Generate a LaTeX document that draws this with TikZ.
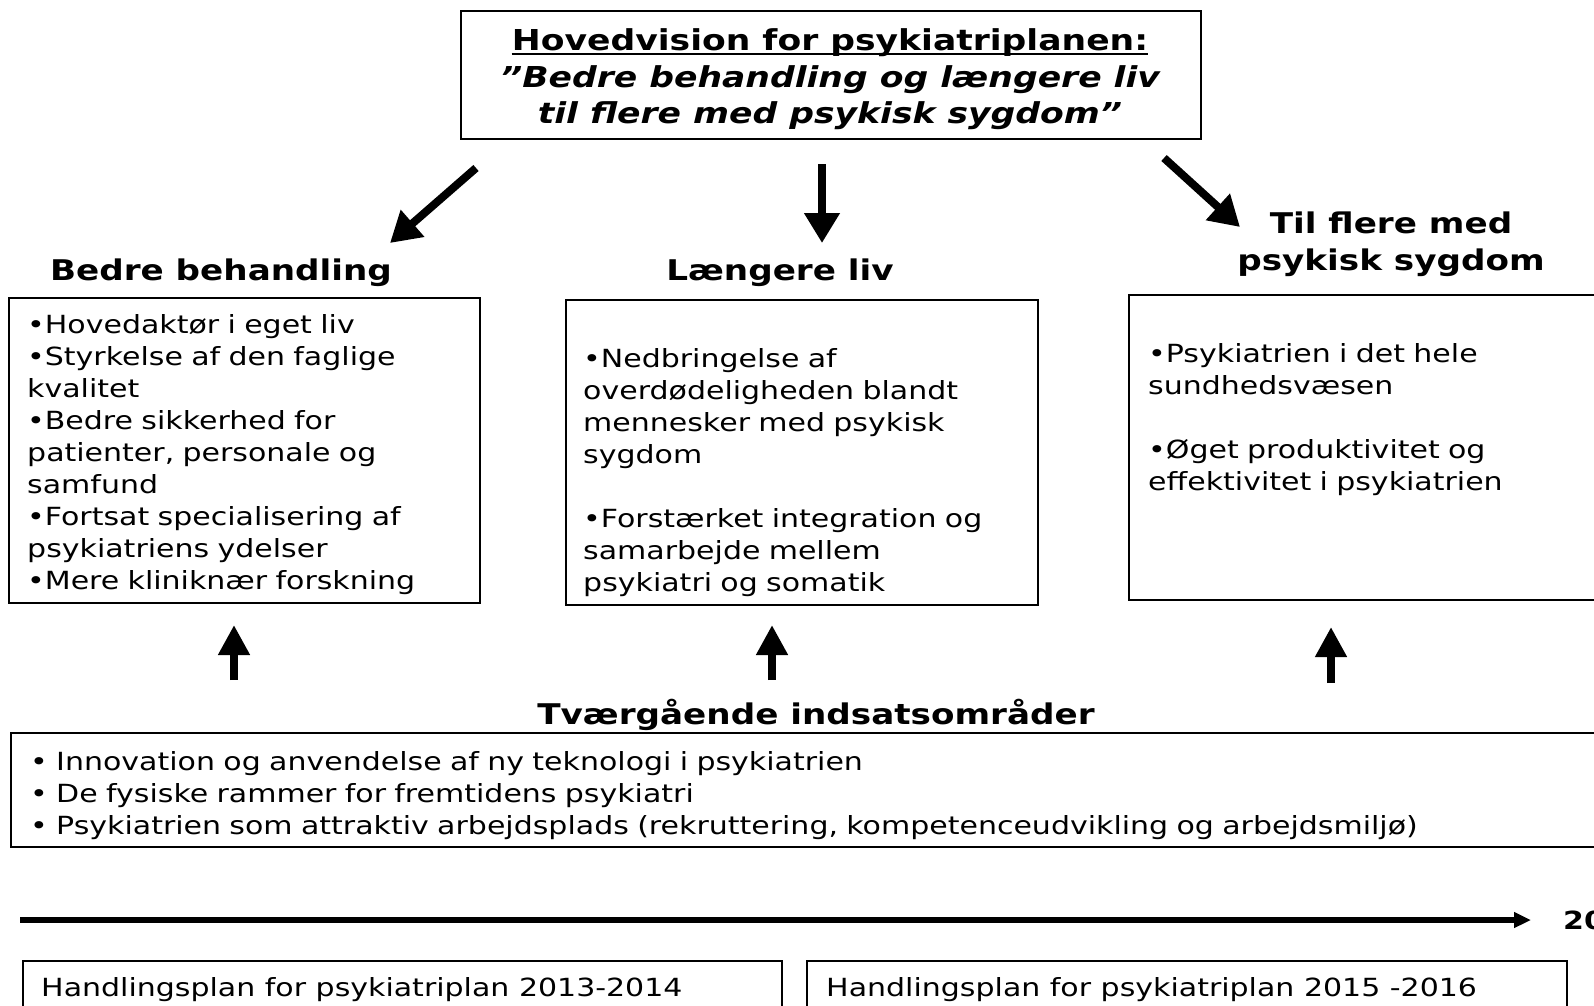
\documentclass[tikz,border=0pt]{standalone}
\usepackage{fontspec}
\setmainfont{DejaVu Sans}[FakeStretch=1.2]
\usetikzlibrary{arrows.meta}
\begin{document}
\begin{tikzpicture}[x=1pt,y=-1pt,
  box/.style={draw=black, line width=1.6pt, inner sep=0pt, anchor=north west},
  bodytxt/.style={inner sep=0pt, anchor=base west, align=left, font=\fontsize{25}{32}\selectfont},
  headtxt/.style={inner sep=0pt, anchor=base, font=\fontsize{28.5}{37}\selectfont\bfseries},
  titletxt/.style={inner sep=0pt, anchor=base, font=\fontsize{28.8}{36}\selectfont\bfseries},
  bigarrow/.style={line width=8pt, -{Triangle[length=30pt,width=34pt]}},
  uparrow/.style={line width=8pt, -{Triangle[length=30pt,width=30pt]}},
  timearrow/.style={line width=6pt, -{Triangle[length=17pt,width=15pt]}}
]
\clip (0,0) rectangle (1594,1005);
\fill[white] (0,0) rectangle (1594,1005);

% top box
\node[box, minimum width=740pt, minimum height=128pt] (top) at (460,10) {};
\node[titletxt] (t1) at (830,50) {Hovedvision for psykiatriplanen:};
\draw[line width=2.2pt] ([yshift=-4pt]t1.base west) -- ([yshift=-4pt]t1.base east);
\node[titletxt, font=\fontsize{28.8}{36}\selectfont\bfseries\itshape] (t2) at (830,87) {”Bedre behandling og længere liv};
\node[titletxt, font=\fontsize{28.8}{36}\selectfont\bfseries\itshape] (t3) at (830,123) {til flere med psykisk sygdom”};

% arrows from top
\coordinate (a1s) at (476,168);
\coordinate (a1e) at (390,243);
\coordinate (a2s) at (822,164);
\coordinate (a2e) at (822,243);
\coordinate (a3s) at (1164,158);
\coordinate (a3e) at (1240,227);
\draw[bigarrow] (a1s) -- (a1e);
\draw[bigarrow] (a2s) -- (a2e);
\draw[bigarrow] (a3s) -- (a3e);

% headings
\node[headtxt] (h1) at (221,280) {Bedre behandling};
\node[headtxt] (h2) at (780,280) {Længere liv};
\node[headtxt] (h3a) at (1391,233) {Til flere med};
\node[headtxt] (h3b) at (1391,270) {psykisk sygdom};

% three boxes
\node[box, minimum width=471pt, minimum height=305pt] (b1) at (8,297) {};
\node[box, minimum width=472pt, minimum height=305pt] (b2) at (565,299) {};
\node[box, minimum width=520pt, minimum height=305pt] (b3) at (1128,294) {};

\node[bodytxt, text width=445pt] (b1t) at (27,333) {•Hovedaktør i eget liv\\•Styrkelse af den faglige\\kvalitet\\•Bedre sikkerhed for\\patienter, personale og\\samfund\\•Fortsat specialisering af\\psykiatriens ydelser\\•Mere kliniknær forskning};
\node[bodytxt, text width=440pt] (b2t) at (583,367) {•Nedbringelse af\\overdødeligheden blandt\\mennesker med psykisk\\sygdom\\[32pt]•Forstærket integration og\\samarbejde mellem\\psykiatri og somatik};
\node[bodytxt, text width=430pt] (b3t) at (1148,362) {•Psykiatrien i det hele\\sundhedsvæsen\\[32pt]•Øget produktivitet og\\effektivitet i psykiatrien};

% up arrows
\coordinate (u1s) at (234,680);
\coordinate (u1e) at (234,625);
\coordinate (u2s) at (772,680);
\coordinate (u2e) at (772,625);
\coordinate (u3s) at (1331,683);
\coordinate (u3e) at (1331,627);
\draw[uparrow] (u1s) -- (u1e);
\draw[uparrow] (u2s) -- (u2e);
\draw[uparrow] (u3s) -- (u3e);

% cross-cutting
\node[headtxt] (h4) at (816,724) {Tværgående indsatsområder};
\node[box, minimum width=1630pt, minimum height=114pt] (b4) at (10,732) {};
\node[bodytxt, text width=1540pt] (b4t) at (30,770) {• Innovation og anvendelse af ny teknologi i psykiatrien\\• De fysiske rammer for fremtidens psykiatri\\• Psykiatrien som attraktiv arbejdsplads (rekruttering, kompetenceudvikling og arbejdsmiljø)};

% timeline
\coordinate (ts) at (20,920);
\coordinate (te) at (1531,920);
\draw[timearrow] (ts) -- (te);
\node[inner sep=0pt, anchor=base west, font=\fontsize{25}{32}\selectfont\bfseries] (yr) at (1563,929) {20};

% bottom boxes
\node[box, minimum width=759pt, minimum height=80pt] (p1) at (22,960) {};
\node[box, minimum width=760pt, minimum height=80pt] (p2) at (806,960) {};
\node[bodytxt] (p1t) at (41,996) {Handlingsplan for psykiatriplan 2013-2014};
\node[bodytxt] (p2t) at (826,996) {Handlingsplan for psykiatriplan 2015 -2016};
\end{tikzpicture}
\end{document}
